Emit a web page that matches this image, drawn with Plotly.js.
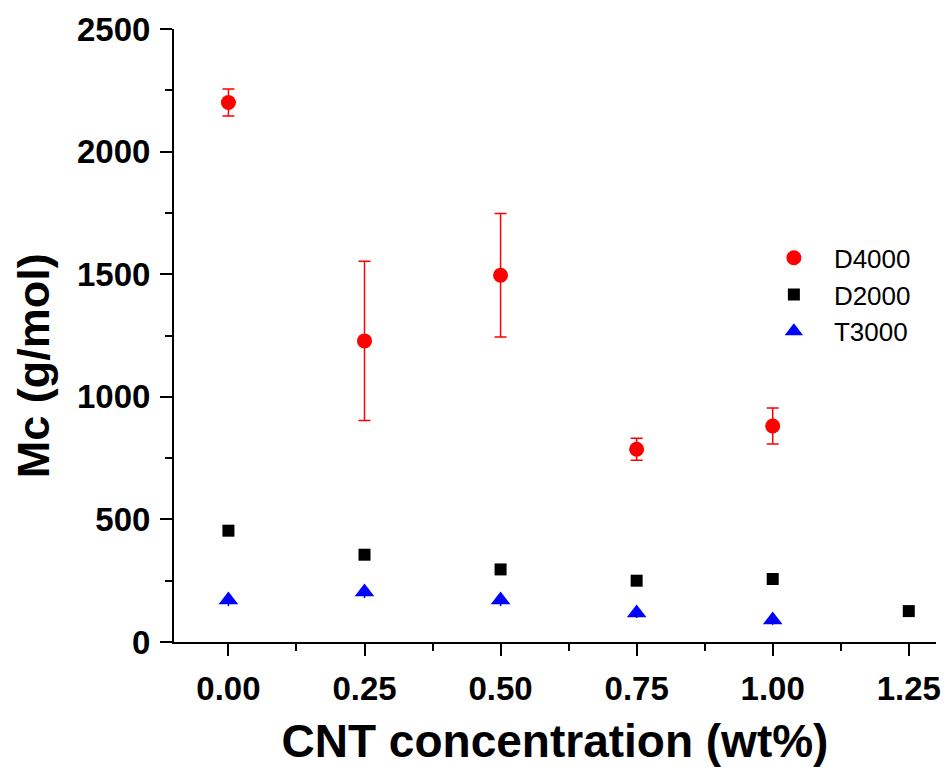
<!DOCTYPE html>
<html><head><meta charset="utf-8">
<script src="https://cdn.plot.ly/plotly-3.0.1.min.js"></script>
<style>body{margin:0;background:#fff}#c{width:945px;height:767px}</style>
</head><body><div id="c"></div>
<script>
const xD4000 = [0, 0.25, 0.5, 0.75, 1.0];
const yD4000 = [2200, 1228, 1496, 786, 881];
const eD4000 = [55, 325, 252, 45, 73];
const xD2000 = [0, 0.25, 0.5, 0.75, 1.0, 1.25];
const yD2000 = [454, 356, 296, 250, 257, 126];
const xT3000 = [0, 0.25, 0.5, 0.75, 1.0];
const yT3000 = [171, 204, 171, 118, 90];
const eT3000 = [25, 25, 25, 20, 20];
const xTicks = [0, 0.25, 0.5, 0.75, 1.0, 1.25];
const xTickText = ['0.00', '0.25', '0.50', '0.75', '1.00', '1.25'];
const yTicks = [0, 500, 1000, 1500, 2000, 2500];
const xTitle = 'CNT concentration (wt%)';
const yTitle = 'Mc (g/mol)';

const traces = [
  {x: xD4000, y: yD4000, name: 'D4000', type: 'scatter', mode: 'markers',
   marker: {symbol: 'circle', size: 15, color: '#ff0000'},
   error_y: {type: 'data', array: eD4000, visible: true, color: '#ff0000', thickness: 1.5, width: 6}},
  {x: xD2000, y: yD2000, name: 'D2000', type: 'scatter', mode: 'markers',
   marker: {symbol: 'square', size: 12, color: '#000000'}},
  {x: xT3000, y: yT3000, name: 'T3000', type: 'scatter', mode: 'markers',
   marker: {symbol: 'triangle-up', size: 17, color: '#0000ff'},
   error_y: {type: 'data', array: eT3000, visible: true, color: '#0000ff', thickness: 1.5, width: 0}}
];

const font = 'Liberation Sans, Arial, sans-serif';
const layout = {
  width: 945, height: 767,
  margin: {l: 174, r: 9, t: 29, b: 125},
  paper_bgcolor: '#fff', plot_bgcolor: '#fff',
  showlegend: true,
  legend: {x: 0.761, y: 0.665, xanchor: 'left', yanchor: 'top', bgcolor: 'rgba(0,0,0,0)',
    font: {family: font, size: 26, color: '#000'}, tracegroupgap: 0, itemwidth: 70},
  xaxis: {
    range: [-0.1, 1.3], tickvals: xTicks, ticktext: xTickText,
    showgrid: false, zeroline: false, showline: true, linecolor: '#000', linewidth: 2,
    ticks: 'outside', ticklen: 12, tickwidth: 2, tickcolor: '#000',
    minor: {dtick: 0.125, ticks: 'outside', ticklen: 7, tickwidth: 2, tickcolor: '#000', showgrid: false},
    tickfont: {family: font, size: 33, color: '#000', weight: 'bold'},
    ticklabelstandoff: 4,
    title: {text: '<b>' + xTitle + '</b>', font: {family: font, size: 46, color: '#000'}, standoff: 22}
  },
  yaxis: {
    range: [0, 2500], tickvals: yTicks,
    showgrid: false, zeroline: false, showline: true, linecolor: '#000', linewidth: 2,
    ticks: 'outside', ticklen: 12, tickwidth: 2, tickcolor: '#000',
    minor: {dtick: 250, ticks: 'outside', ticklen: 7, tickwidth: 2, tickcolor: '#000', showgrid: false},
    tickfont: {family: font, size: 33, color: '#000', weight: 'bold'},
    ticklabelstandoff: 3
  },
  annotations: [{
    text: '<b>' + yTitle + '</b>', xref: 'paper', yref: 'paper',
    x: -0.185, y: 0.45, xanchor: 'center', yanchor: 'middle', textangle: -90,
    showarrow: false, font: {family: font, size: 45, color: '#000'}
  }]
};
Plotly.newPlot('c', traces, layout, {displayModeBar: false, staticPlot: true});
</script></body></html>
